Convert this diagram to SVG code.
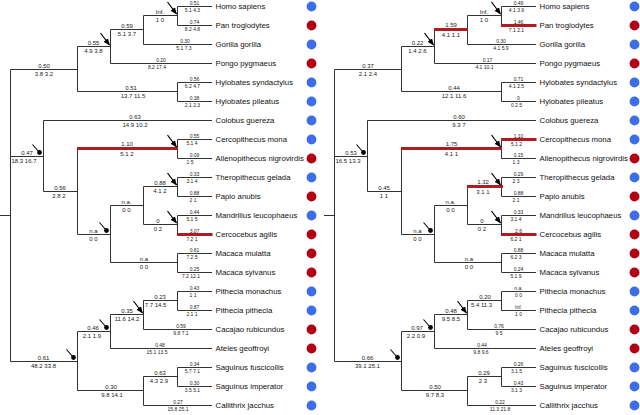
<svg xmlns="http://www.w3.org/2000/svg" width="640" height="415" viewBox="0 0 640 415" xml:space="preserve">
<style>
text{font-family:"Liberation Sans",Arial,sans-serif;fill:#222}
.n{font-size:7.8px;fill:#111}
.a{font-size:6px;text-anchor:middle}
.b{font-size:5px;text-anchor:middle}
.edge{fill:none;stroke:#333;stroke-width:1}
.red{fill:none;stroke:#b31b22;stroke-width:3;stroke-linecap:square}
.arr{stroke:#000;stroke-width:1.2;marker-end:url(#ah)}
.pin{stroke:#000;stroke-width:1.1}
.blue{fill:#3b6ee8}
.rd{fill:#b30012}
</style>
<defs>
<marker id="ah" viewBox="0 0 10 10" refX="9" refY="5" markerWidth="7" markerHeight="7" markerUnits="userSpaceOnUse" orient="auto"><path d="M0,1L10,5L0,9z" fill="#000"/></marker>
<path id="skel" d="M0 215.5H10.5M10.5 69.5V361.5M10.5 69.5H77.5M77.5 46.5V91.5M77.5 46.5H110.5M110.5 29.5V63.5M110.5 29.5H143.5M143.5 15.5V44.5M143.5 15.5H177.5M177.5 6.5V25.5M177.5 6.5H212M177.5 25.5H212M143.5 44.5H212M110.5 63.5H212M77.5 91.5H177.5M177.5 82.5V101.5M177.5 82.5H212M177.5 101.5H212M10.5 156.5H43.5M43.5 120.5V191.5M43.5 120.5H212M43.5 191.5H77.5M77.5 148.5V234.5M77.5 148.5H177.5M177.5 139.5V158.5M177.5 139.5H212M177.5 158.5H212M77.5 234.5H110.5M110.5 205.5V262.5M110.5 205.5H143.5M143.5 186.5V224.5M143.5 186.5H177.5M177.5 177.5V196.5M177.5 177.5H212M177.5 196.5H212M143.5 224.5H177.5M177.5 215.5V234.5M177.5 215.5H212M177.5 234.5H212M110.5 262.5H177.5M177.5 253.5V272.5M177.5 253.5H212M177.5 272.5H212M10.5 361.5H77.5M77.5 331.5V390.5M77.5 331.5H110.5M110.5 314.5V348.5M110.5 314.5H143.5M143.5 300.5V329.5M143.5 300.5H177.5M177.5 291.5V310.5M177.5 291.5H212M177.5 310.5H212M143.5 329.5H212M110.5 348.5H212M77.5 390.5H143.5M143.5 376.5V405.5M143.5 376.5H177.5M177.5 367.5V386.5M177.5 367.5H212M177.5 386.5H212M143.5 405.5H212"/>
</defs>

<g id="connectors">
<g id="connectors-left">
<use href="#skel" class="edge"/>
<path class="red" d="M78.5 148.5H176.5M178.5 234.5H211"/>
<line class="arr" x1="100.5" y1="33" x2="109.5" y2="45"/>
<line class="arr" x1="167.5" y1="2" x2="176.5" y2="14"/>
<line class="arr" x1="167.5" y1="135" x2="176.5" y2="147"/>
<line class="arr" x1="167.5" y1="173" x2="176.5" y2="185"/>
<line class="arr" x1="167.5" y1="211" x2="176.5" y2="223"/>
<line class="arr" x1="133.5" y1="301" x2="142.5" y2="313"/>
<line class="pin" x1="32.5" y1="144.5" x2="39.5" y2="152.5"/><circle cx="39.5" cy="152.5" r="2.4"/>
<line class="pin" x1="99.5" y1="222.5" x2="106.5" y2="230.5"/><circle cx="106.5" cy="230.5" r="2.4"/>
<line class="pin" x1="66.5" y1="349.5" x2="73.5" y2="357.5"/><circle cx="73.5" cy="357.5" r="2.4"/>
<line class="pin" x1="99.5" y1="319.5" x2="106.5" y2="327.5"/><circle cx="106.5" cy="327.5" r="2.4"/>
</g>
<g id="connectors-right" transform="translate(324,0)">
<use href="#skel" class="edge"/>
<path class="red" d="M111.5 29.5H142.5M178.5 25.5H211M178.5 139.5H211M78.5 148.5H176.5M144.5 186.5H177.5M178.5 234.5H211"/>
<line class="arr" x1="100.5" y1="33" x2="109.5" y2="45"/>
<line class="arr" x1="167.5" y1="2" x2="176.5" y2="14"/>
<line class="arr" x1="167.5" y1="135" x2="176.5" y2="147"/>
<line class="arr" x1="167.5" y1="173" x2="176.5" y2="185"/>
<line class="arr" x1="167.5" y1="211" x2="176.5" y2="223"/>
<line class="arr" x1="133.5" y1="301" x2="142.5" y2="313"/>
<line class="pin" x1="32.5" y1="144.5" x2="39.5" y2="152.5"/><circle cx="39.5" cy="152.5" r="2.4"/>
<line class="pin" x1="99.5" y1="222.5" x2="106.5" y2="230.5"/><circle cx="106.5" cy="230.5" r="2.4"/>
<line class="pin" x1="66.5" y1="349.5" x2="73.5" y2="357.5"/><circle cx="73.5" cy="357.5" r="2.4"/>
<line class="pin" x1="99.5" y1="319.5" x2="106.5" y2="327.5"/><circle cx="106.5" cy="327.5" r="2.4"/>
</g>
</g>

<g id="tree-left">
<g id="left-branch-labels">
<text class="a" x="44" y="67.7">0.50</text><text class="a" x="44" y="76">3.8  3.2</text>
<text class="a" x="93.5" y="44.7">0.55</text><text class="a" x="93.5" y="53">4.9  3.8</text>
<text class="a" x="127" y="27.7">0.59</text><text class="a" x="127" y="36">5.1  3.7</text>
<text class="a" x="160" y="13.7">Inf.</text><text class="a" x="160" y="22">1   0</text>
<text class="a" x="131" y="89.7">0.51</text><text class="a" x="133" y="98">13.7  11.5</text>
<text class="a" x="27" y="154.7">0.47</text><text class="a" x="24" y="163">18.3  16.7</text>
<text class="a" x="135" y="118.7">0.63</text><text class="a" x="135" y="127">14.9  10.2</text>
<text class="a" x="60" y="189.7">0.56</text><text class="a" x="59" y="198">2.8  2</text>
<text class="a" x="127" y="146.2">1.10</text><text class="a" x="127" y="155.8">5.1  2</text>
<text class="a" x="93.5" y="232.7">n.a</text><text class="a" x="93.5" y="241">0  0</text>
<text class="a" x="126.5" y="203.7">n.a.</text><text class="a" x="126.5" y="212">0  0</text>
<text class="a" x="160" y="184.7">0.88</text><text class="a" x="160" y="193">4.1   2</text>
<text class="a" x="158" y="222.7">0</text><text class="a" x="158" y="231">0   2</text>
<text class="a" x="144" y="260.7">n.a</text><text class="a" x="144" y="269">0  0</text>
<text class="a" x="43.5" y="359.7">0.61</text><text class="a" x="43.5" y="368">48.2  33.8</text>
<text class="a" x="93" y="329.7">0.46</text><text class="a" x="92" y="338">2.1  1.9</text>
<text class="a" x="127" y="312.7">0.35</text><text class="a" x="127" y="321">11.6  14.2</text>
<text class="a" x="160" y="298.7">0.23</text><text class="a" x="155.5" y="307">7.7  14.5</text>
<text class="a" x="111" y="388.7">0.30</text><text class="a" x="112" y="397">9.8  14.1</text>
<text class="a" x="160" y="374.7">0.63</text><text class="a" x="159" y="383">4.3  2.9</text>
<text class="b" x="194.5" y="5">0.51</text><text class="b" x="192.5" y="12.3">5.1 4.3</text>
<text class="b" x="194.5" y="24">0.74</text><text class="b" x="192.5" y="31.3">8.2 4.8</text>
<text class="b" x="185" y="43">0.30</text><text class="b" x="184" y="50.3">5.1 7.3</text>
<text class="b" x="161" y="62">0.20</text><text class="b" x="157" y="69.3">8.2 17.4</text>
<text class="b" x="194.5" y="81">0.56</text><text class="b" x="192.5" y="88.3">6.2 4.7</text>
<text class="b" x="194.5" y="100">0.38</text><text class="b" x="192.5" y="107.3">2.1 2.3</text>
<text class="b" x="194.5" y="138">0.55</text><text class="b" x="192" y="145.3">5.1 4</text>
<text class="b" x="194.5" y="157">0.09</text><text class="b" x="190" y="164.3">1 5</text>
<text class="b" x="194.5" y="176">0.33</text><text class="b" x="192" y="183.3">3.1 4</text>
<text class="b" x="194.5" y="195">0.88</text><text class="b" x="193" y="202.3">2 1</text>
<text class="b" x="194.5" y="214">0.44</text><text class="b" x="192" y="221.3">5.1 5</text>
<text class="b" x="194.5" y="232.5">3.07</text><text class="b" x="192" y="241">7.2 1</text>
<text class="b" x="194.5" y="252">0.61</text><text class="b" x="192" y="259.3">7.2 5</text>
<text class="b" x="194.5" y="271">0.25</text><text class="b" x="191" y="278.3">7.2 12.1</text>
<text class="b" x="194.5" y="290">0.43</text><text class="b" x="193" y="297.3">1 1</text>
<text class="b" x="194.5" y="309">0.87</text><text class="b" x="192" y="316.3">2.1 1</text>
<text class="b" x="181" y="328">0.59</text><text class="b" x="181" y="335.3">9.8 7.1</text>
<text class="b" x="160" y="347">0.48</text><text class="b" x="157" y="354.3">15.1 13.5</text>
<text class="b" x="194.5" y="366">0.34</text><text class="b" x="192.5" y="373.3">5.7 7.1</text>
<text class="b" x="194.5" y="385">0.30</text><text class="b" x="192.5" y="392.3">3.5 5.1</text>
<text class="b" x="178" y="404">0.27</text><text class="b" x="178" y="411.3">15.8 25.1</text>
</g>
<g id="L-homo-sapiens"><text class="n" x="215.5" y="9.3">Homo sapiens</text><circle class="blue" cx="311.5" cy="6.5" r="4.9"/></g>
<g id="L-pan-troglodytes"><text class="n" x="215.5" y="28.3">Pan troglodytes</text><circle class="rd" cx="311.5" cy="25.5" r="4.9"/></g>
<g id="L-gorilla-gorilla"><text class="n" x="215.5" y="47.3">Gorilla gorilla</text><circle class="blue" cx="311.5" cy="44.5" r="4.9"/></g>
<g id="L-pongo-pygmaeus"><text class="n" x="215.5" y="66.3">Pongo pygmaeus</text><circle class="rd" cx="311.5" cy="63.5" r="4.9"/></g>
<g id="L-hylobates-syndactylus"><text class="n" x="215.5" y="85.3">Hylobates syndactylus</text><circle class="blue" cx="311.5" cy="82.5" r="4.9"/></g>
<g id="L-hylobates-pileatus"><text class="n" x="215.5" y="104.3">Hylobates pileatus</text><circle class="blue" cx="311.5" cy="101.5" r="4.9"/></g>
<g id="L-colobus-guereza"><text class="n" x="215.5" y="123.3">Colobus guereza</text><circle class="blue" cx="311.5" cy="120.5" r="4.9"/></g>
<g id="L-cercopithecus-mona"><text class="n" x="215.5" y="142.3">Cercopithecus mona</text><circle class="blue" cx="311.5" cy="139.5" r="4.9"/></g>
<g id="L-allenopithecus-nigrovirdis"><text class="n" x="215.5" y="161.3">Allenopithecus nigrovirdis</text><circle class="rd" cx="311.5" cy="158.5" r="4.9"/></g>
<g id="L-theropithecus-gelada"><text class="n" x="215.5" y="180.3">Theropithecus gelada</text><circle class="blue" cx="311.5" cy="177.5" r="4.9"/></g>
<g id="L-papio-anubis"><text class="n" x="215.5" y="199.3">Papio anubis</text><circle class="rd" cx="311.5" cy="196.5" r="4.9"/></g>
<g id="L-mandrillus-leucophaeus"><text class="n" x="215.5" y="218.3">Mandrillus leucophaeus</text><circle class="blue" cx="311.5" cy="215.5" r="4.9"/></g>
<g id="L-cercocebus-agilis"><text class="n" x="215.5" y="237.3">Cercocebus agilis</text><circle class="rd" cx="311.5" cy="234.5" r="4.9"/></g>
<g id="L-macaca-mulatta"><text class="n" x="215.5" y="256.3">Macaca mulatta</text><circle class="rd" cx="311.5" cy="253.5" r="4.9"/></g>
<g id="L-macaca-sylvanus"><text class="n" x="215.5" y="275.3">Macaca sylvanus</text><circle class="rd" cx="311.5" cy="272.5" r="4.9"/></g>
<g id="L-pithecia-monachus"><text class="n" x="215.5" y="294.3">Pithecia monachus</text><circle class="blue" cx="311.5" cy="291.5" r="4.9"/></g>
<g id="L-pithecia-pithecia"><text class="n" x="215.5" y="313.3">Pithecia pithecia</text><circle class="blue" cx="311.5" cy="310.5" r="4.9"/></g>
<g id="L-cacajao-rubicundus"><text class="n" x="215.5" y="332.3">Cacajao rubicundus</text><circle class="rd" cx="311.5" cy="329.5" r="4.9"/></g>
<g id="L-ateles-geoffroyi"><text class="n" x="215.5" y="351.3">Ateles geoffroyi</text><circle class="rd" cx="311.5" cy="348.5" r="4.9"/></g>
<g id="L-saguinus-fuscicollis"><text class="n" x="215.5" y="370.3">Saguinus fuscicollis</text><circle class="blue" cx="311.5" cy="367.5" r="4.9"/></g>
<g id="L-saguinus-imperator"><text class="n" x="215.5" y="389.3">Saguinus imperator</text><circle class="blue" cx="311.5" cy="386.5" r="4.9"/></g>
<g id="L-callithrix-jacchus"><text class="n" x="215.5" y="408.3">Callithrix jacchus</text><circle class="blue" cx="311.5" cy="405.5" r="4.9"/></g>
</g>

<g id="tree-right" transform="translate(324,0)">
<g id="right-branch-labels">
<text class="a" x="44" y="67.7">0.37</text><text class="a" x="44" y="76">2.1  2.4</text>
<text class="a" x="93.5" y="44.7">0.22</text><text class="a" x="93.5" y="53">1.4  2.6</text>
<text class="a" x="127" y="27.2">1.59</text><text class="a" x="127" y="36.8">4.1  1.1</text>
<text class="a" x="160" y="13.7">Inf.</text><text class="a" x="160" y="22">1   0</text>
<text class="a" x="130" y="89.7">0.44</text><text class="a" x="130" y="98">12.1  11.6</text>
<text class="a" x="27" y="154.7">0.53</text><text class="a" x="24" y="163">16.5  13.3</text>
<text class="a" x="135" y="118.7">0.60</text><text class="a" x="135" y="127">9.3  7</text>
<text class="a" x="60" y="189.7">0.45</text><text class="a" x="60" y="198">1  1</text>
<text class="a" x="127.5" y="146.2">1.75</text><text class="a" x="127.5" y="155.8">4.1  1</text>
<text class="a" x="93.5" y="232.7">n.a</text><text class="a" x="93.5" y="241">0  0</text>
<text class="a" x="126.5" y="203.7">n.a.</text><text class="a" x="126.5" y="212">0  0</text>
<text class="a" x="159" y="184.2">1.32</text><text class="a" x="159" y="193.8">3.1  1</text>
<text class="a" x="158" y="222.7">0</text><text class="a" x="158" y="231">0   2</text>
<text class="a" x="145" y="260.7">n.a</text><text class="a" x="145" y="269">0  0</text>
<text class="a" x="43.5" y="359.7">0.66</text><text class="a" x="43.5" y="368">39.1  25.1</text>
<text class="a" x="93" y="329.7">0.97</text><text class="a" x="92" y="338">2.2  0.9</text>
<text class="a" x="127" y="312.7">0.48</text><text class="a" x="127" y="321">9.5  8.5</text>
<text class="a" x="161" y="298.7">0.20</text><text class="a" x="157.5" y="307">5.4  11.3</text>
<text class="a" x="111" y="388.7">0.50</text><text class="a" x="111" y="397">9.7  8.3</text>
<text class="a" x="160" y="374.7">0.29</text><text class="a" x="159" y="383">2   3</text>
<text class="b" x="194.5" y="5">0.49</text><text class="b" x="192.5" y="12.3">4.1 3.9</text>
<text class="b" x="194.5" y="23.5">1.46</text><text class="b" x="192.5" y="32">7.1 2.1</text>
<text class="b" x="177" y="43">0.30</text><text class="b" x="177" y="50.3">4.1 5.9</text>
<text class="b" x="163.5" y="62">0.17</text><text class="b" x="160.5" y="69.3">4.1 10.1</text>
<text class="b" x="194.5" y="81">0.71</text><text class="b" x="192.5" y="88.3">4.1 2.5</text>
<text class="b" x="194.5" y="100">0</text><text class="b" x="192.5" y="107.3">0 2.5</text>
<text class="b" x="194.5" y="137.5">1.10</text><text class="b" x="192.5" y="146">5.1 2</text>
<text class="b" x="194.5" y="157">0.15</text><text class="b" x="192" y="164.3">1 3</text>
<text class="b" x="194.5" y="176">0.29</text><text class="b" x="192" y="183.3">2 3</text>
<text class="b" x="194.5" y="195">0.88</text><text class="b" x="192" y="202.3">2 1</text>
<text class="b" x="194.5" y="214">0.33</text><text class="b" x="192" y="221.3">3.1 4</text>
<text class="b" x="194.5" y="232.5">2.6</text><text class="b" x="192" y="241">6.2 1</text>
<text class="b" x="194.5" y="252">0.88</text><text class="b" x="192" y="259.3">6.2 3</text>
<text class="b" x="194.5" y="271">0.24</text><text class="b" x="192" y="278.3">5.1 9</text>
<text class="b" x="194.5" y="290">n.a.</text><text class="b" x="194.5" y="297.3">0 0</text>
<text class="b" x="194.5" y="309">Inf.</text><text class="b" x="194.5" y="316.3">1 0</text>
<text class="b" x="175" y="328">0.76</text><text class="b" x="175" y="335.3">9 5</text>
<text class="b" x="158" y="347">0.44</text><text class="b" x="157" y="354.3">9.8 9.6</text>
<text class="b" x="194.5" y="366">0.26</text><text class="b" x="192.5" y="373.3">3.1 5</text>
<text class="b" x="194.5" y="385">0.43</text><text class="b" x="192.5" y="392.3">3.1 3</text>
<text class="b" x="176" y="404">0.22</text><text class="b" x="176" y="411.3">11.3 21.8</text>
</g>
<g id="R-homo-sapiens"><text class="n" x="215.5" y="9.3">Homo sapiens</text><circle class="blue" cx="310.5" cy="6.5" r="4.9"/></g>
<g id="R-pan-troglodytes"><text class="n" x="215.5" y="28.3">Pan troglodytes</text><circle class="rd" cx="310.5" cy="25.5" r="4.9"/></g>
<g id="R-gorilla-gorilla"><text class="n" x="215.5" y="47.3">Gorilla gorilla</text><circle class="blue" cx="310.5" cy="44.5" r="4.9"/></g>
<g id="R-pongo-pygmaeus"><text class="n" x="215.5" y="66.3">Pongo pygmaeus</text><circle class="rd" cx="310.5" cy="63.5" r="4.9"/></g>
<g id="R-hylobates-syndactylus"><text class="n" x="215.5" y="85.3">Hylobates syndactylus</text><circle class="blue" cx="310.5" cy="82.5" r="4.9"/></g>
<g id="R-hylobates-pileatus"><text class="n" x="215.5" y="104.3">Hylobates pileatus</text><circle class="blue" cx="310.5" cy="101.5" r="4.9"/></g>
<g id="R-colobus-guereza"><text class="n" x="215.5" y="123.3">Colobus guereza</text><circle class="blue" cx="310.5" cy="120.5" r="4.9"/></g>
<g id="R-cercopithecus-mona"><text class="n" x="215.5" y="142.3">Cercopithecus mona</text><circle class="blue" cx="310.5" cy="139.5" r="4.9"/></g>
<g id="R-allenopithecus-nigrovirdis"><text class="n" x="215.5" y="161.3">Allenopithecus nigrovirdis</text><circle class="rd" cx="310.5" cy="158.5" r="4.9"/></g>
<g id="R-theropithecus-gelada"><text class="n" x="215.5" y="180.3">Theropithecus gelada</text><circle class="blue" cx="310.5" cy="177.5" r="4.9"/></g>
<g id="R-papio-anubis"><text class="n" x="215.5" y="199.3">Papio anubis</text><circle class="rd" cx="310.5" cy="196.5" r="4.9"/></g>
<g id="R-mandrillus-leucophaeus"><text class="n" x="215.5" y="218.3">Mandrillus leucophaeus</text><circle class="blue" cx="310.5" cy="215.5" r="4.9"/></g>
<g id="R-cercocebus-agilis"><text class="n" x="215.5" y="237.3">Cercocebus agilis</text><circle class="rd" cx="310.5" cy="234.5" r="4.9"/></g>
<g id="R-macaca-mulatta"><text class="n" x="215.5" y="256.3">Macaca mulatta</text><circle class="rd" cx="310.5" cy="253.5" r="4.9"/></g>
<g id="R-macaca-sylvanus"><text class="n" x="215.5" y="275.3">Macaca sylvanus</text><circle class="rd" cx="310.5" cy="272.5" r="4.9"/></g>
<g id="R-pithecia-monachus"><text class="n" x="215.5" y="294.3">Pithecia monachus</text><circle class="blue" cx="310.5" cy="291.5" r="4.9"/></g>
<g id="R-pithecia-pithecia"><text class="n" x="215.5" y="313.3">Pithecia pithecia</text><circle class="blue" cx="310.5" cy="310.5" r="4.9"/></g>
<g id="R-cacajao-rubicundus"><text class="n" x="215.5" y="332.3">Cacajao rubicundus</text><circle class="rd" cx="310.5" cy="329.5" r="4.9"/></g>
<g id="R-ateles-geoffroyi"><text class="n" x="215.5" y="351.3">Ateles geoffroyi</text><circle class="rd" cx="310.5" cy="348.5" r="4.9"/></g>
<g id="R-saguinus-fuscicollis"><text class="n" x="215.5" y="370.3">Saguinus fuscicollis</text><circle class="blue" cx="310.5" cy="367.5" r="4.9"/></g>
<g id="R-saguinus-imperator"><text class="n" x="215.5" y="389.3">Saguinus imperator</text><circle class="blue" cx="310.5" cy="386.5" r="4.9"/></g>
<g id="R-callithrix-jacchus"><text class="n" x="215.5" y="408.3">Callithrix jacchus</text><circle class="blue" cx="310.5" cy="405.5" r="4.9"/></g>
</g>
</svg>
